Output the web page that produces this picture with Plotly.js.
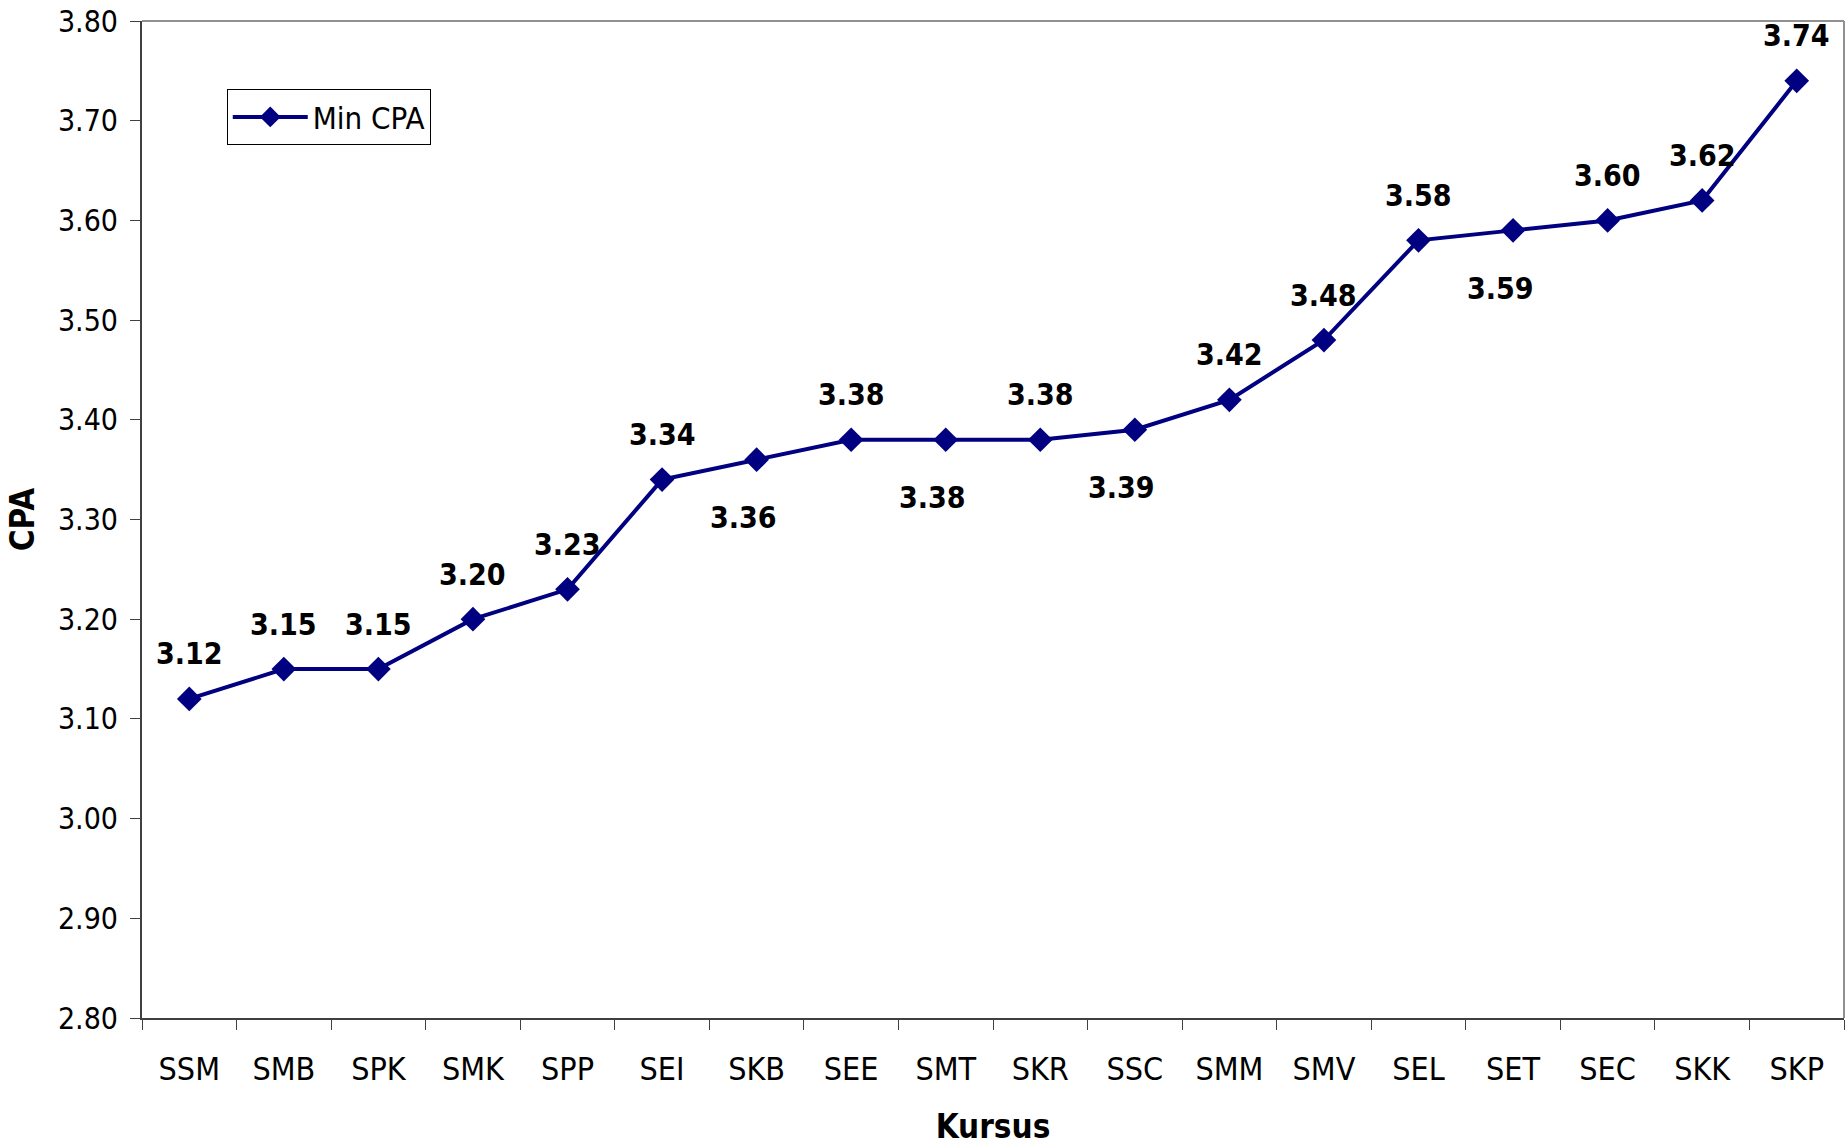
<!DOCTYPE html>
<html>
<head>
<meta charset="utf-8">
<script src="https://cdn.plot.ly/plotly-3.0.1.min.js"></script>
<style>
  html, body { margin: 0; padding: 0; background: #ffffff; }
  #chart { width: 1845px; height: 1146px; }
</style>
</head>
<body>
<div id="chart"></div>
<script>
// ---- data ----
const kursus = ['SSM','SMB','SPK','SMK','SPP','SEI','SKB','SEE','SMT','SKR','SSC','SMM','SMV','SEL','SET','SEC','SKK','SKP'];
const minCPA = [3.12, 3.15, 3.15, 3.20, 3.23, 3.34, 3.36, 3.38, 3.38, 3.38, 3.39, 3.42, 3.48, 3.58, 3.59, 3.60, 3.62, 3.74];
const labelsBelow = ['SKB','SMT','SSC','SET'];
const seriesName = 'Min CPA';
const xTitle = 'Kursus';
const yTitle = 'CPA';

// ---- styling ----
const FONT = '"DejaVu Sans Condensed", "DejaVu Sans", Verdana, sans-serif';
const NAVY = '#000080';

const trace = {
  type: 'scatter',
  mode: 'lines+markers',
  name: seriesName,
  x: kursus,
  y: minCPA,
  line: { color: NAVY, width: 4 },
  marker: { symbol: 'diamond', size: 19, color: NAVY },
  hoverinfo: 'x+y'
};

const annotations = kursus.map((k, i) => {
  const below = labelsBelow.includes(k);
  return {
    x: k, y: minCPA[i], xref: 'x', yref: 'y',
    text: minCPA[i].toFixed(2),
    showarrow: false,
    xanchor: 'center', yanchor: 'middle',
    xshift: below ? -13 : 0,
    yshift: below ? -58 : 45,
    font: { family: FONT, size: 30, color: '#000000', weight: 'bold' }
  };
});

const layout = {
  width: 1845, height: 1146,
  margin: { l: 142, r: 1, t: 21, b: 128, pad: 0 },
  paper_bgcolor: '#ffffff',
  plot_bgcolor: '#ffffff',
  font: { family: FONT, color: '#000000' },
  showlegend: true,
  legend: {
    x: 0.0498, y: 0.9315, xanchor: 'left', yanchor: 'top',
    bgcolor: '#ffffff', bordercolor: '#000000', borderwidth: 1,
    font: { family: FONT, size: 31, color: '#000000' },
    itemwidth: 75
  },
  xaxis: {
    type: 'category',
    range: [-0.5, kursus.length - 0.5],
    showgrid: false, zeroline: false,
    showline: true, linecolor: '#404040', linewidth: 2,
    ticks: 'outside', ticklen: 10, tickwidth: 1, tickcolor: '#404040',
    tickson: 'boundaries',
    tickfont: { family: FONT, size: 32, color: '#000000' },
    ticklabelstandoff: 22,
    title: { text: xTitle, font: { family: FONT, size: 33, color: '#000000', weight: 'bold' }, standoff: 29 },
    fixedrange: true
  },
  yaxis: {
    range: [2.8, 3.8],
    dtick: 0.1, tick0: 2.8,
    tickformat: '.2f',
    showgrid: false, zeroline: false,
    showline: true, linecolor: '#404040', linewidth: 2,
    ticks: 'outside', ticklen: 10, tickwidth: 1, tickcolor: '#404040',
    tickfont: { family: FONT, size: 30, color: '#000000' },
    ticklabelstandoff: 6,
    title: { text: yTitle, font: { family: FONT, size: 33, color: '#000000', weight: 'bold' }, standoff: 13 },
    fixedrange: true
  },
  shapes: [
    { type: 'line', xref: 'paper', yref: 'paper', x0: 0, x1: 1, y0: 1, y1: 1, line: { color: '#909090', width: 2 } },
    { type: 'line', xref: 'paper', yref: 'paper', x0: 1, x1: 1, y0: 0, y1: 1, line: { color: '#909090', width: 2 } }
  ],
  annotations: annotations
};

Plotly.newPlot('chart', [trace], layout, { displayModeBar: false, staticPlot: true });
</script>
</body>
</html>
